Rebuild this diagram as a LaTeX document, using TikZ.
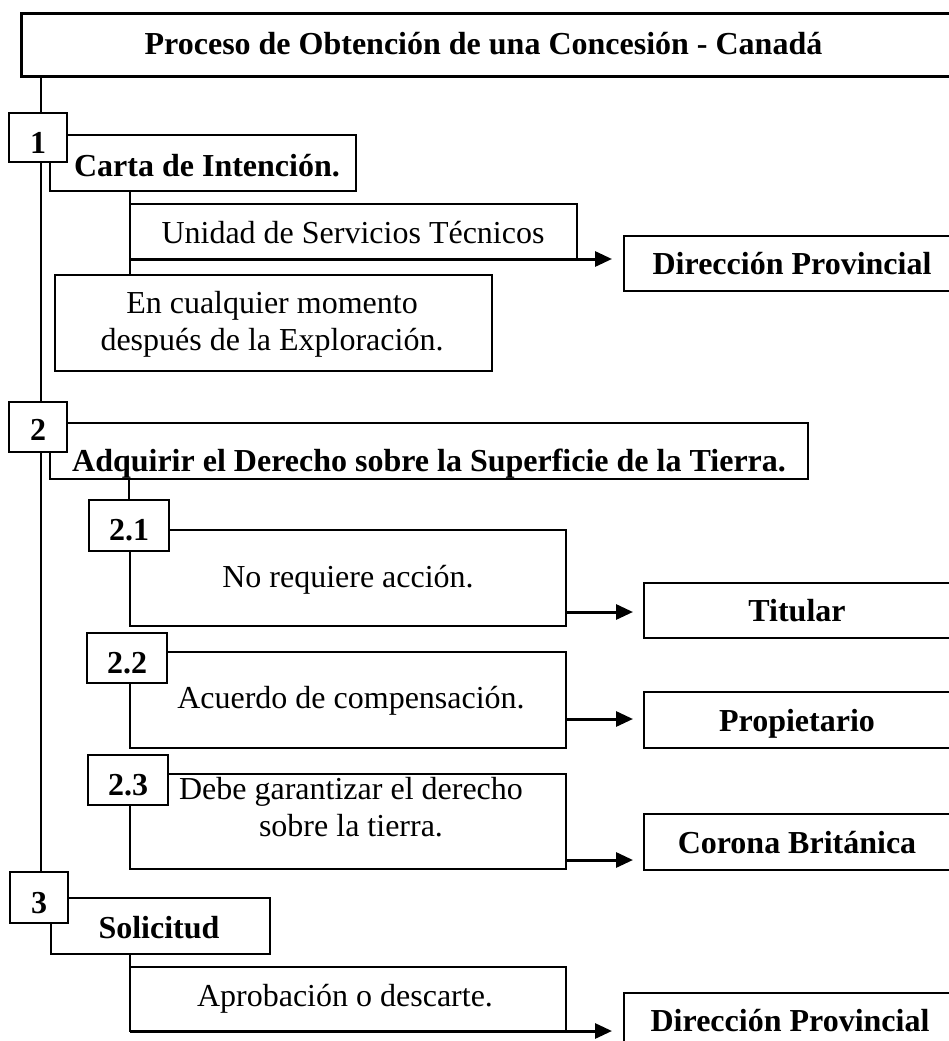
\documentclass[tikz,border=0pt]{standalone}
\usepackage{fontspec}
\setmainfont{Liberation Serif}
\usetikzlibrary{arrows.meta}
\pgfdeclarelayer{background}
\pgfsetlayers{background,main}
\begin{document}
\begin{tikzpicture}[x=1pt,y=-1pt,
  frame/.style={draw, line width=1.2pt, fill=white, inner sep=0pt, outer sep=0pt, anchor=north west},
  numbox/.style={draw, line width=2.5pt, fill=white, inner sep=0pt, outer sep=0pt, anchor=north west},
  subnum/.style={draw, line width=1.8pt, fill=white, inner sep=0pt, outer sep=0pt, anchor=north west},
  titlebox/.style={draw, line width=3pt, fill=white, inner sep=0pt, outer sep=0pt, anchor=north west},
  txt/.style={anchor=base, inner sep=0pt, font=\fontsize{32}{37}\selectfont},
  btxt/.style={anchor=base, inner sep=0pt, font=\fontsize{32}{37}\selectfont\bfseries},
  conn/.style={line width=2pt},
  arr/.style={line width=3pt, -{Triangle[length=17pt,width=15pt]}},
]
\useasboundingbox (0,0) rectangle (948,1041);

% boxes
\node[titlebox, minimum width=934pt, minimum height=62pt] (title) at (21,14) {};
\node[frame, minimum width=306pt, minimum height=56pt] (carta) at (50,135) {};
\node[numbox, minimum width=58pt, minimum height=49pt] (n1) at (9,113) {};
\node[frame, minimum width=447pt, minimum height=55pt] (unidad) at (130,204) {};
\node[frame, minimum width=336pt, minimum height=55pt] (dp1) at (624,236) {};
\node[frame, minimum width=437pt, minimum height=96pt] (encual) at (55,275) {};
\node[frame, minimum width=758pt, minimum height=56pt] (adq) at (50,423) {};
\node[numbox, minimum width=58pt, minimum height=50pt] (n2) at (9,402) {};
\node[frame, minimum width=436pt, minimum height=96pt] (noreq) at (130,530) {};
\node[subnum, minimum width=80pt, minimum height=51pt] (n21) at (89,500) {};
\node[frame, minimum width=307pt, minimum height=55pt] (tit) at (644,583) {};
\node[frame, minimum width=436pt, minimum height=96pt] (acu) at (130,652) {};
\node[subnum, minimum width=80pt, minimum height=50pt] (n22) at (87,633) {};
\node[frame, minimum width=307pt, minimum height=56pt] (prop) at (644,692) {};
\node[frame, minimum width=436pt, minimum height=95pt] (debe) at (130,774) {};
\node[subnum, minimum width=80pt, minimum height=50pt] (n23) at (88,755) {};
\node[frame, minimum width=307pt, minimum height=56pt] (cor) at (644,814) {};
\node[frame, minimum width=219pt, minimum height=56pt] (sol) at (51,898) {};
\node[numbox, minimum width=58pt, minimum height=51pt] (n3) at (10,872) {};
\node[frame, minimum width=436pt, minimum height=64pt] (apr) at (130,967) {};
\node[frame, minimum width=336pt, minimum height=80pt] (dp2) at (624,993) {};

% main vertical line (behind the boxes)
\begin{pgfonlayer}{background}
\coordinate (m0) at (41,76);
\draw[conn] (m0) -- (m0 |- n3.north);
\end{pgfonlayer}

% connectors
\draw[conn] (carta.south -| unidad.west) -- (encual.north -| unidad.west);
\draw[conn] (adq.south -| n21.north) -- (n21.north);
\draw[conn] (sol.south -| apr.west) -- (apr.south west);

% arrows
\draw[arr, shorten >=12pt] (unidad.south west) -- (unidad.south west -| dp1.west);
\coordinate (a21) at ([yshift=14pt]noreq.south east);
\draw[arr, shorten >=11pt] (a21) -- (a21 -| tit.west);
\coordinate (a22) at ([yshift=29pt]acu.south east);
\draw[arr, shorten >=11pt] (a22) -- (a22 -| prop.west);
\coordinate (a23) at ([yshift=9pt]debe.south east);
\draw[arr, shorten >=11pt] (a23) -- (a23 -| cor.west);
\draw[arr, shorten >=12pt] (apr.south west) -- (apr.south west -| dp2.west);

% texts
\node[btxt] (ttitle) at (483.5,55) {Proceso de Obtención de una Concesión - Canadá};
\node[btxt] (t1) at (38,153) {1};
\node[btxt] (tcarta) at (207,176) {Carta de Intención.};
\node[txt] (tunidad) at (353,243) {Unidad de Servicios Técnicos};
\node[btxt] (tdp1) at (792,274) {Dirección Provincial};
\node[txt] (tenc1) at (272,313) {En cualquier momento};
\node[txt] (tenc2) at (272,350) {después de la Exploración.};
\node[btxt] (t2) at (38,440) {2};
\node[btxt] (tadq) at (429,471) {Adquirir el Derecho sobre la Superficie de la Tierra.};
\node[btxt] (t21) at (129,540) {2.1};
\node[txt] (tnoreq) at (348,587) {No requiere acción.};
\node[btxt] (ttit) at (797,621) {Titular};
\node[btxt] (t22) at (127,673) {2.2};
\node[txt] (tacu) at (351,708) {Acuerdo de compensación.};
\node[btxt] (tprop) at (797,731) {Propietario};
\node[btxt] (t23) at (128,795) {2.3};
\node[txt] (tdebe1) at (351,799) {Debe garantizar el derecho};
\node[txt] (tdebe2) at (351,836) {sobre la tierra.};
\node[btxt] (tcor) at (797,853) {Corona Británica};
\node[btxt] (t3) at (39,913) {3};
\node[btxt] (tsol) at (159,938) {Solicitud};
\node[txt] (tapr) at (345,1006) {Aprobación o descarte.};
\node[btxt] (tdp2) at (790,1031) {Dirección Provincial};
\end{tikzpicture}
\end{document}
